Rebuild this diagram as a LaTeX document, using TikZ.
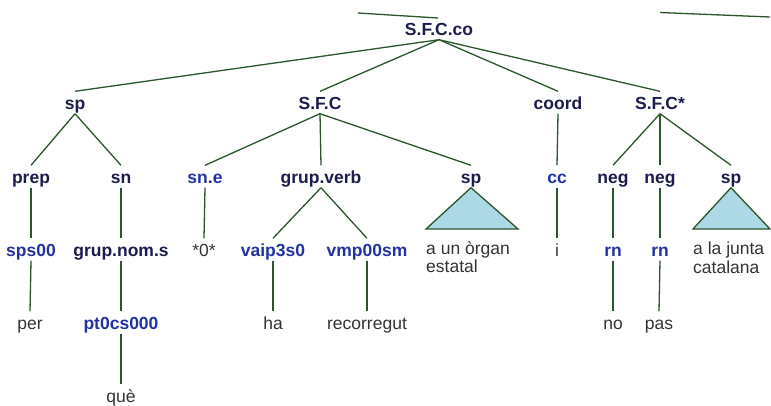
\documentclass[tikz,border=0pt]{standalone}
\usepackage{fontspec}
\setmainfont{Liberation Sans}
\definecolor{edgecol}{HTML}{2B552B}
\definecolor{navy}{HTML}{1C1C4E}
\definecolor{tagblue}{HTML}{2233A0}
\definecolor{wordcol}{HTML}{333333}
\definecolor{trifill}{HTML}{ADD8E6}
\tikzset{
  lbl/.style={anchor=base, text height=13pt, text depth=0pt, inner xsep=1pt, inner ysep=4.5pt,
              font=\fontsize{17.5}{18.5}\selectfont},
  cat/.style={lbl, font=\fontsize{17.5}{18.5}\selectfont\bfseries, text=navy},
  tag/.style={lbl, font=\fontsize{17.5}{18.5}\selectfont\bfseries, text=tagblue},
  wrd/.style={lbl, text=wordcol},
  phrase/.style={anchor=north west, align=left, inner sep=0pt, text=wordcol,
                 font=\fontsize{17.5}{18.5}\selectfont},
  edge/.style={draw=edgecol, line width=1.3pt},
  tri/.style={edge, fill=trifill, line join=miter},
}
\begin{document}
\begin{tikzpicture}[x=1pt,y=-1pt]
\useasboundingbox (0,0) rectangle (771,405);
% stray strokes at the top
\coordinate (sA) at (358,13);
\coordinate (sB) at (438,18);
\coordinate (sC) at (660,12.5);
\coordinate (sD) at (770,17);
\draw[edge] (sA) -- (sB);
\draw[edge] (sC) -- (sD);
% level 0
\node[cat] (top) at (439,35) {S.F.C.co};
% level 1
\node[cat] (spA)  at (75,109)  {sp};
\node[cat] (sfc)  at (320,109) {S.F.C};
\node[cat] (coord) at (558,109) {coord};
\node[cat] (sfcs) at (660,109) {S.F.C*};
% level 2
\node[cat] (prep) at (31,183)  {prep};
\node[cat] (sn)   at (121,183) {sn};
\node[tag] (sne)  at (205,183) {sn.e};
\node[cat] (gv)   at (321,183) {grup.verb};
\node[cat] (spB)  at (471,183) {sp};
\node[tag] (cc)   at (557,183) {cc};
\node[cat] (negA) at (613,183) {neg};
\node[cat] (negB) at (660,183) {neg};
\node[cat] (spC)  at (731,183) {sp};
% level 3
\node[tag] (sps)  at (31,256)  {sps00};
\node[cat] (gns)  at (121,256) {grup.nom.s};
\node[wrd] (zero) at (204,256) {*0*};
\node[tag] (vaip) at (273,256) {vaip3s0};
\node[tag] (vmp)  at (367,256) {vmp00sm};
\node[wrd] (conj) at (557,256) {i};
\node[tag] (rnA)  at (613,256) {rn};
\node[tag] (rnB)  at (660,256) {rn};
\node[phrase] (phB) at (426,241) {a un òrgan\\estatal};
\node[phrase] (phC) at (693,242) {a la junta\\catalana};
% level 4
\node[wrd] (per) at (30,329)  {per};
\node[tag] (pt)  at (121,329) {pt0cs000};
\node[wrd] (ha)  at (273,329) {ha};
\node[wrd] (rec) at (367,329) {recorregut};
\node[wrd] (no)  at (613,329) {no};
\node[wrd] (pas) at (659,329) {pas};
% level 5
\node[wrd] (que) at (121,402) {què};
% connectors
\foreach \a/\b in {top/spA, top/sfc, top/coord, top/sfcs,
                   spA/prep, spA/sn, sfc/sne, sfc/gv, sfc/spB,
                   coord/cc, sfcs/negA, sfcs/negB, sfcs/spC,
                   prep/sps, sn/gns, sne/zero, gv/vaip, gv/vmp,
                   cc/conj, negA/rnA, negB/rnB,
                   sps/per, gns/pt, vaip/ha, vmp/rec, rnA/no, rnB/pas,
                   pt/que}
  \draw[edge] (\a.south) -- (\b.north);
% triangles
\filldraw[tri] (spB.south) -- (426,229) -- (518,229) -- cycle;
\filldraw[tri] (spC.south) -- (693,229) -- (770,229) -- cycle;
\end{tikzpicture}
\end{document}
